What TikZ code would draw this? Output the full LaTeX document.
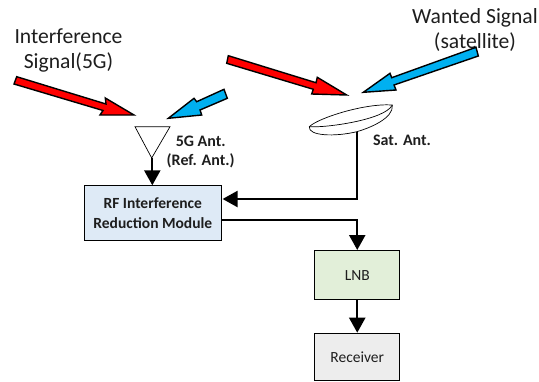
\documentclass[tikz,border=0pt]{standalone}
\usepackage{fontspec}
\setmainfont{Carlito}
\usetikzlibrary{arrows.meta,calc}
\definecolor{sigred}{RGB}{255,0,0}
\definecolor{sigblue}{RGB}{0,176,240}
\definecolor{rfblue}{RGB}{222,234,246}
\definecolor{lnbgreen}{RGB}{226,239,217}
\definecolor{rxgrey}{RGB}{237,237,237}
\definecolor{txt}{RGB}{30,30,30}
\tikzset{
  blockbox/.style={draw=black,line width=0.9bp,anchor=north west,inner sep=0pt,align=center,text=txt},
  sigarrow/.style={draw=black,line width=1.4bp,line join=miter,miter limit=10},
  conn/.style={draw=black,line width=2.3bp,-{Triangle[length=15bp,width=16bp]}},
  biglabel/.style={font=\fontsize{21.6bp}{25bp}\selectfont,align=center,text=txt,inner sep=0pt},
  smalllabel/.style={font=\fontsize{16bp}{19.3bp}\selectfont\bfseries,align=center,text=txt,inner sep=0pt},
  boxlabel/.style={font=\fontsize{15.5bp}{20bp}\selectfont}
}
\begin{document}
\begin{tikzpicture}[x=1bp,y=-1bp]
\useasboundingbox (0,0) rectangle (539,381);
% block arrows
\draw[sigarrow,fill=sigred] (16.7,76.7) -- (106,104) -- (105.3,98) -- (134,115) -- (100,115) -- (103,110.5) -- (14,84) -- cycle;
\draw[sigarrow,fill=sigblue] (224,89.3) -- (196.7,101.7) -- (194,98.3) -- (168.3,118.3) -- (201.7,115) -- (200,110) -- (227.3,98.3) -- cycle;
\draw[sigarrow,fill=sigred] (228.3,55.7) -- (316,82.7) -- (317.3,77.3) -- (346.7,95) -- (311.7,94) -- (313.3,89.3) -- (226.7,63.3) -- cycle;
% labels under the blue arrow
\node[biglabel] (intf) at (68.5,50.5) {Interference\\Signal(5G)};
\node[biglabel] (want) at (475,29.5) {Wanted Signal\\(satellite)};
\draw[sigarrow,fill=sigblue] (476,47.3) -- (391.7,77.7) -- (390,73.3) -- (363.3,92.3) -- (396,90) -- (394,85) -- (478.3,56) -- cycle;
% 5G antenna
\draw[black,line width=0.7bp,fill=white] (135,126.7) -- (170,126.7) -- (151.7,158) -- cycle;
\coordinate (ant5g) at (152.3,158);
% satellite dish
\draw[black,line width=0.7bp,fill=white] (309.3,126.7) .. controls (318,118) and (365,103) .. (392.3,105)
  .. controls (394,118) and (370,128) .. (356.7,131.7)
  .. controls (335,137) and (308,136) .. (309.3,126.7) -- cycle;
\draw[black,line width=0.7bp] (309.3,126.7) .. controls (325,128) and (385,120) .. (392.3,105);
\coordinate (dish) at (357.3,131.5);
\node[smalllabel] (l5g) at (200.7,152) {5G Ant.\\(Ref. Ant.)};
\node[smalllabel] (lsat) at (402,140) {Sat. Ant.};
% boxes
\node[blockbox,fill=rfblue,minimum width=136.7bp,minimum height=55bp,font=\fontsize{15.5bp}{20bp}\selectfont\bfseries] (rf) at (84,185.3) {RF Interference\\Reduction Module};
\node[blockbox,fill=lnbgreen,minimum width=85bp,minimum height=49.3bp,boxlabel] (lnb) at (314.3,250) {LNB};
\node[blockbox,fill=rxgrey,minimum width=85bp,minimum height=47.3bp,boxlabel] (rx) at (314.3,332.7) {Receiver};
% connectors
\coordinate (rfin) at ($(rf.north east)+(1,13.7)$);
\coordinate (rfout) at ($(rf.north east)+(0,34.7)$);
\draw[conn] (ant5g) -- (ant5g |- rf.north);
\draw[conn,line join=miter] (dish) |- (rfin);
\draw[conn,line join=miter] (rfout) -| (lnb.north);
\draw[conn] (lnb.south) -- (rx.north);
\end{tikzpicture}
\end{document}
